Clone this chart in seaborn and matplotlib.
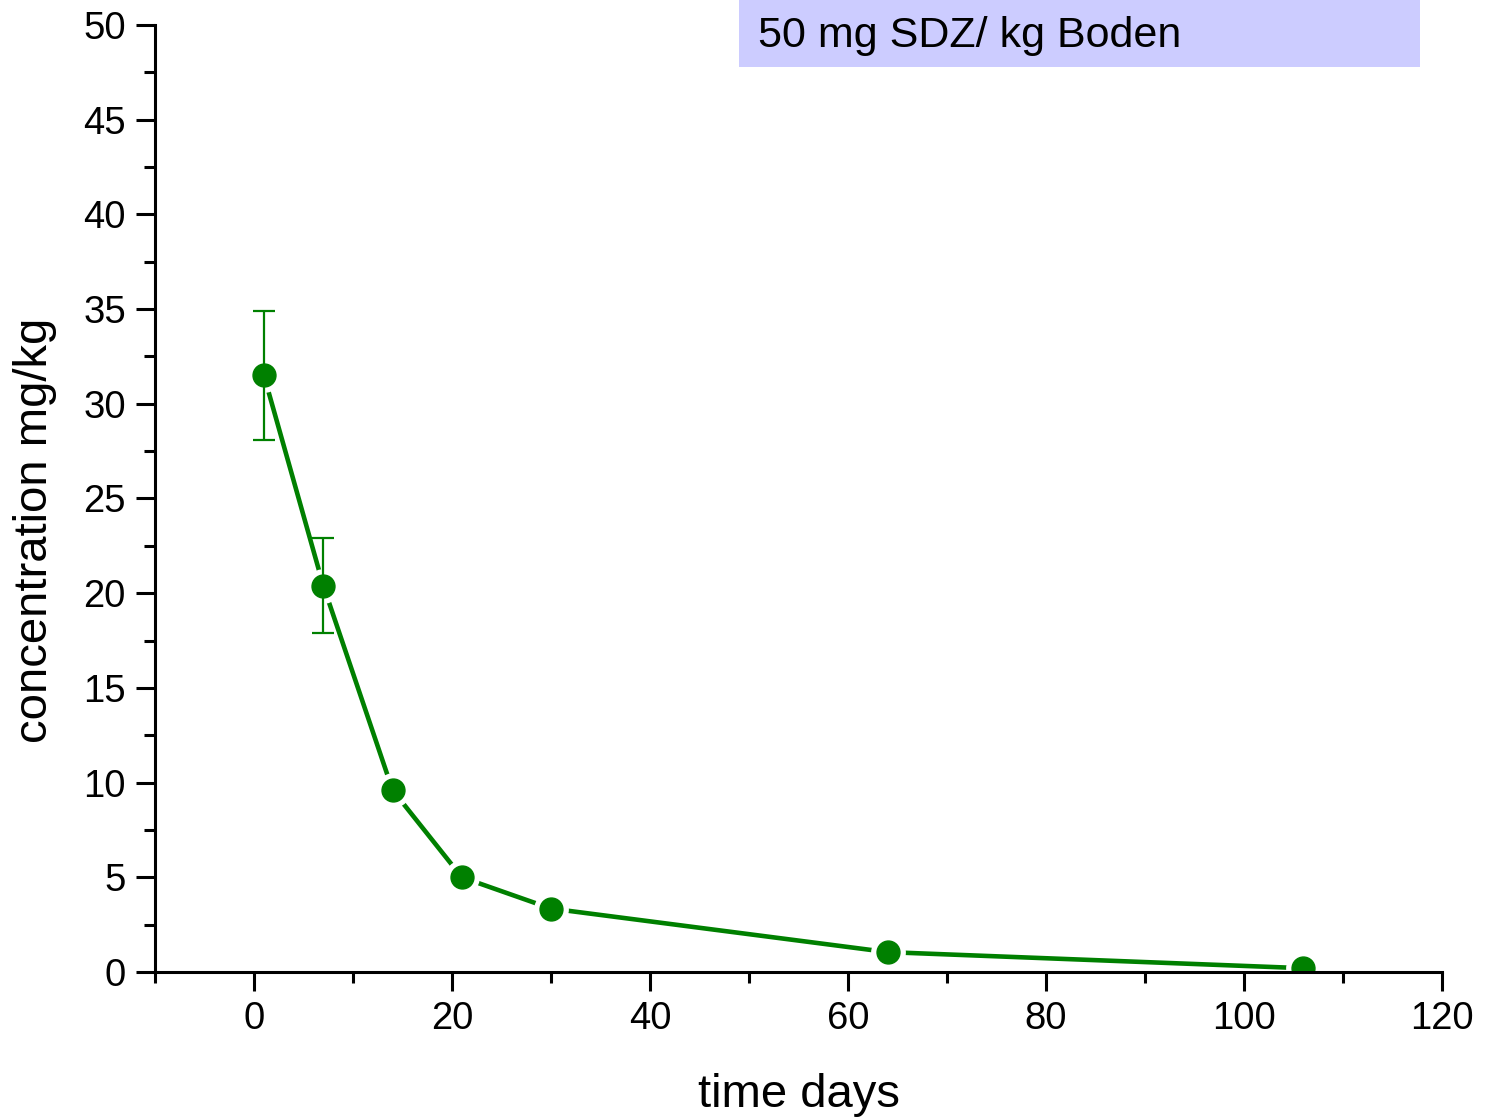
import matplotlib
matplotlib.use("Agg")
import matplotlib.pyplot as plt
import seaborn as sns
import pandas as pd
from matplotlib.patches import Rectangle
from matplotlib.ticker import MultipleLocator

# Data
time_days = [1, 7, 14, 21, 30, 64, 106]
concentration = [31.5, 20.4, 9.6, 5.0, 3.35, 1.05, 0.2]
err_time = [1, 7]
err_conc = [31.5, 20.4]
err_size = [3.4, 2.5]
box_text = "50 mg SDZ/ kg Boden"
xlabel = "time days"
ylabel = "concentration mg/kg"

sns.set_style("ticks")
plt.rcParams['font.family'] = ['Liberation Sans', 'DejaVu Sans']
plt.rcParams['text.color'] = 'black'
plt.rcParams['axes.labelcolor'] = 'black'
plt.rcParams['xtick.color'] = 'black'
plt.rcParams['ytick.color'] = 'black'

green = "#008000"
fig = plt.figure(figsize=(14.93, 11.18), dpi=100)
ax = fig.add_axes([155/1493, 1 - 972/1118, (1442-155)/1493, (972-25)/1118])

df = pd.DataFrame({"time": time_days, "conc": concentration})
sns.lineplot(data=df, x="time", y="conc", ax=ax, color=green, linewidth=3.3, zorder=1)
# white halos produce the gaps between line and markers
ax.plot(time_days, concentration, linestyle="none", marker="o", markersize=24,
        markerfacecolor="white", markeredgecolor="white", zorder=1.5)
ax.errorbar(err_time, err_conc, yerr=err_size, fmt="none", ecolor=green,
            elinewidth=1.6, capsize=8, capthick=1.6, zorder=1.7)
ax.plot(time_days, concentration, linestyle="none", marker="o", markersize=16.5,
        markerfacecolor=green, markeredgecolor=green, zorder=1.8)

ax.set_xlim(-10, 120)
ax.set_ylim(0, 50)
ax.xaxis.set_major_locator(MultipleLocator(20))
ax.xaxis.set_minor_locator(MultipleLocator(10))
ax.yaxis.set_major_locator(MultipleLocator(5))
ax.yaxis.set_minor_locator(MultipleLocator(2.5))
ax.tick_params(which="major", length=14, width=2.2, labelsize=27.5, direction="out",
               color="black", labelcolor="black", pad=7)
ax.tick_params(which="minor", length=8, width=2.2, direction="out", color="black")
for s in ["top", "right"]:
    ax.spines[s].set_visible(False)
for s in ["left", "bottom"]:
    ax.spines[s].set_linewidth(2.2)
    ax.spines[s].set_color("black")
    ax.spines[s].set_zorder(3)

ax.set_xlabel(xlabel, fontsize=34, labelpad=26, color="black")
ax.set_ylabel(ylabel, fontsize=34, color="black")
ax.yaxis.set_label_coords(-(155 - 57) / (1442 - 155), (972 - 530) / (972 - 25))

fig.patches.append(Rectangle((739/1493, 1 - 67/1118), (1420-739)/1493, 67/1118 + 0.01,
                             transform=fig.transFigure, facecolor="#CCCCFF", edgecolor="none", zorder=0))
fig.text(758/1493, 1 - 47/1118, box_text, fontsize=31, va="baseline", ha="left", color="black")

fig.savefig("out.png", dpi=100)
